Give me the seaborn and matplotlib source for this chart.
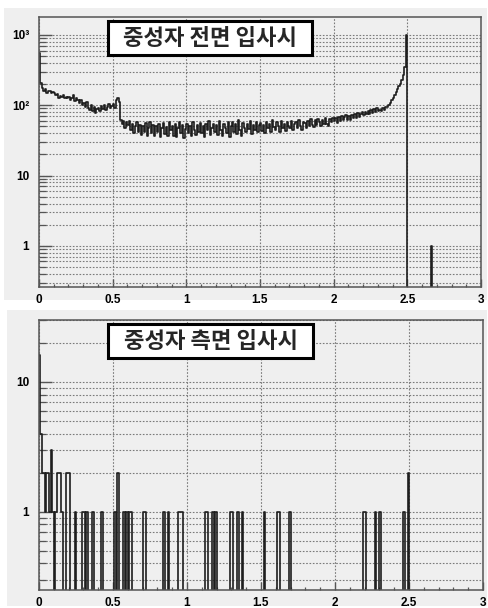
import numpy as np
import pandas as pd
import matplotlib
matplotlib.use("Agg")
import matplotlib.pyplot as plt
import seaborn as sns
from matplotlib.ticker import MultipleLocator, LogLocator, NullFormatter, FixedLocator, FixedFormatter
from matplotlib.patches import Rectangle

# ---------------- data ----------------
BIN_WIDTH = 0.01

# front incidence: counts per 0.01 bin from 0.00 to 2.49
front_counts = [
    550, 210, 175, 160, 168, 150, 158, 162, 148, 155,
    150, 138, 145, 128, 135, 130, 140, 125, 132, 128,
    130, 118, 128, 138, 115, 125, 120, 108, 118, 102,
    108, 95, 112, 92, 86, 102, 82, 95, 78, 88,
    92, 82, 98, 88, 100, 85, 95, 104, 90, 98,
    105, 92, 118, 127, 110, 62, 55, 60, 48, 57,
    52, 60, 44, 55, 40, 50, 58, 42, 53, 38,
    50, 41, 56, 36, 48, 58, 40, 52, 37, 51,
    42, 54, 35, 47, 56, 39, 49, 36, 58, 44,
    50, 37, 55, 35, 47, 57, 40, 52, 34, 46,
    55, 40, 50, 36, 58, 44, 38, 53, 42, 56,
    40, 51, 35, 55, 45, 60, 38, 48, 54, 41,
    52, 38, 60, 44, 36, 55, 47, 40, 57, 35,
    50, 58, 42, 54, 39, 62, 45, 37, 56, 48,
    41, 55, 46, 60, 39, 52, 44, 58, 42, 53,
    56, 43, 52, 40, 58, 47, 54, 42, 61, 49,
    45, 57, 50, 41, 59, 48, 55, 43, 58, 51,
    47, 60, 45, 55, 58, 48, 62, 50, 45, 58,
    56, 48, 60, 51, 63, 53, 49, 61, 52, 64,
    58, 50, 62, 54, 65, 55, 51, 63, 57, 66,
    60, 66, 56, 67, 60, 70, 61, 68, 72, 62,
    70, 62, 73, 65, 75, 66, 78, 69, 74, 79,
    72, 80, 74, 83, 76, 85, 78, 88, 80, 90,
    82, 86, 83, 90, 87, 93, 96, 100, 108, 118,
    125, 140, 155, 170, 185, 200, 225, 270, 350, 1000,
]
front_extra_bins = [2.66]
front_extra_counts = [1]

# side incidence: nonzero bins (bin start) and counts
side_bins = [0.00, 0.01, 0.02, 0.03, 0.04, 0.05, 0.06, 0.07, 0.08, 0.09,
             0.11, 0.12, 0.13, 0.14, 0.15, 0.18, 0.19, 0.20, 0.24, 0.29,
             0.30, 0.32, 0.36, 0.42, 0.51, 0.53, 0.57, 0.59, 0.61, 0.62,
             0.70, 0.71, 0.84, 0.87, 0.94, 0.95, 0.96, 1.12, 1.13, 1.17,
             1.19, 1.29, 1.30, 1.34, 1.37, 1.52, 1.61, 1.62, 1.69, 2.19,
             2.20, 2.27, 2.30, 2.46, 2.49]
side_counts = [16, 4, 2, 2, 1, 2, 2, 1, 3, 1,
               1, 2, 2, 2, 1, 2, 2, 2, 1, 1,
               1, 1, 1, 1, 1, 2, 1, 1, 1, 1,
               1, 1, 1, 1, 1, 1, 1, 1, 1, 1,
               1, 1, 1, 1, 1, 1, 1, 1, 1, 1,
               1, 1, 1, 1, 2]

front_title = "중성자 전면 입사시"
side_title = "중성자 측면 입사시"
x_ticks = [0, 0.5, 1, 1.5, 2, 2.5, 3]
x_tick_labels = ["0", "0.5", "1", "1.5", "2", "2.5", "3"]
front_y_ticks = [1, 10, 100, 1000]
front_y_labels = ["1", "10", "10²", "10³"]
side_y_ticks = [1, 10]
side_y_labels = ["1", "10"]

# ---------------- style ----------------
sns.set_style("white")
plt.rcParams["font.family"] = ["Liberation Sans", "DejaVu Sans"]

W, H = 489, 608
fig = plt.figure(figsize=(W / 100, H / 100), dpi=100, facecolor="white")

CANVAS = "#efefef"
for (x0, y0, x1, y1) in [(4, 8, 487, 300), (7, 310, 487, 606)]:
    fig.patches.append(Rectangle((x0 / W, 1 - y1 / H), (x1 - x0) / W, (y1 - y0) / H,
                                 transform=fig.transFigure, facecolor=CANVAS,
                                 edgecolor="none", zorder=-10))

edges = [round(i * BIN_WIDTH, 4) for i in range(301)]

front_df = pd.DataFrame({
    "x": [i * BIN_WIDTH + BIN_WIDTH / 2 for i in range(len(front_counts))]
         + [b + BIN_WIDTH / 2 for b in front_extra_bins],
    "w": front_counts + front_extra_counts,
})
side_df = pd.DataFrame({"x": [b + BIN_WIDTH / 2 for b in side_bins], "w": side_counts})


def make_axes(px_left, px_top, px_right, px_bottom):
    return fig.add_axes([px_left / W, 1 - px_bottom / H,
                         (px_right - px_left) / W, (px_bottom - px_top) / H])


ax1 = make_axes(39, 17, 481, 287)
ax2 = make_axes(39, 320, 483, 590)

panels = [
    (ax1, front_df, front_title, front_y_ticks, front_y_labels, (0.26, 1800)),
    (ax2, side_df, side_title, side_y_ticks, side_y_labels, (0.25, 30)),
]

LINE = "#1e1e1e"
GRID = "#7a7a7a"
for ax, df, title, yt, yl, ylim in panels:
    ax.set_facecolor(CANVAS)
    sns.histplot(data=df, x="x", weights="w", bins=edges, element="step",
                 fill=False, color=LINE, linewidth=1.2, ax=ax)
    ax.set_yscale("log")
    ax.set_xlim(0, 3)
    ax.set_ylim(*ylim)
    ax.set_xlabel("")
    ax.set_ylabel("")

    ax.xaxis.set_major_locator(FixedLocator(x_ticks))
    ax.xaxis.set_major_formatter(FixedFormatter(x_tick_labels))
    ax.xaxis.set_minor_locator(MultipleLocator(0.1))
    ax.yaxis.set_major_locator(FixedLocator(yt))
    ax.yaxis.set_major_formatter(FixedFormatter(yl))
    ax.yaxis.set_minor_locator(LogLocator(base=10, subs=np.arange(2, 10), numticks=30))
    ax.yaxis.set_minor_formatter(NullFormatter())

    ax.grid(True, which="major", axis="x", linestyle=(0, (1.5, 1.5)), color=GRID, linewidth=0.8)
    ax.grid(True, which="both", axis="y", linestyle=(0, (1.5, 1.5)), color=GRID, linewidth=0.8)
    ax.set_axisbelow(True)

    ax.tick_params(axis="y", which="major", direction="in", length=9.5, width=1.0,
                   color="#555555", left=True, right=False, pad=7,
                   labelsize=8.5, labelcolor="black")
    ax.tick_params(axis="y", which="minor", direction="in", length=5, width=0.9,
                   color="#555555", left=True, right=False)
    ax.tick_params(axis="x", which="major", direction="in", length=6, width=1.0,
                   color="#555555", bottom=True, top=False, pad=5,
                   labelsize=8.5, labelcolor="black")
    ax.tick_params(axis="x", which="minor", direction="in", length=2.5, width=0.9,
                   color="#555555", bottom=True, top=False)
    for lab in ax.get_xticklabels() + ax.get_yticklabels():
        lab.set_fontweight("bold")

    for s in ax.spines.values():
        s.set_visible(True)
        s.set_color("#555555")
        s.set_linewidth(1.1)

    # title box
    ax.add_patch(Rectangle((0.156, 0.86), 0.462, 0.125, transform=ax.transAxes,
                           facecolor="white", edgecolor="black", linewidth=2.2,
                           zorder=5, clip_on=False))
    ax.text(0.387, 0.921, title, transform=ax.transAxes, ha="center", va="center",
            fontsize=16, fontweight="bold", zorder=6,
            family=["Noto Sans CJK KR", "DejaVu Sans"])

fig.savefig("out.png", dpi=100, facecolor="white")
